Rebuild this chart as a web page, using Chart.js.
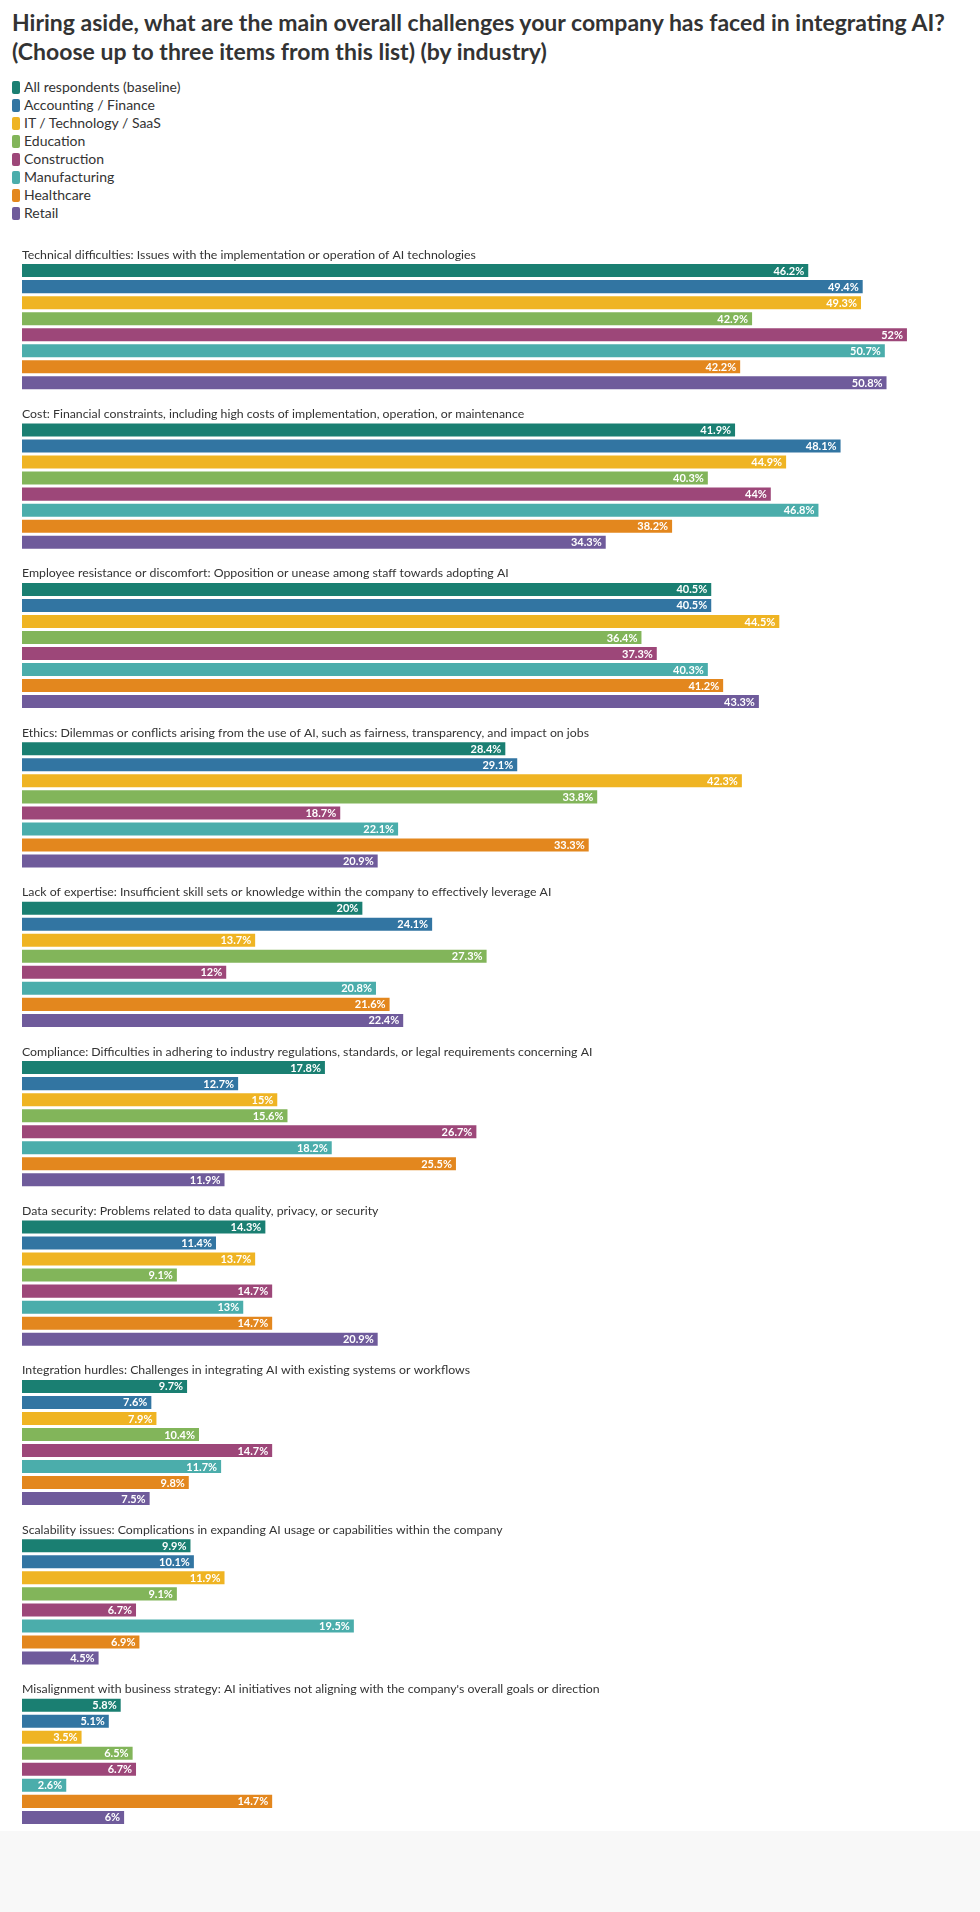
<!DOCTYPE html>
<html>
<head>
<meta charset="utf-8">
<script src="https://cdn.jsdelivr.net/npm/chart.js@4/dist/chart.umd.min.js"></script>
<style>
  html, body { margin: 0; padding: 0; background: #f8f8f8; }
  body { width: 980px; height: 1912px; position: relative; font-family: Lato, "Noto Sans", sans-serif; color: #333; }
  #panel { position: absolute; left: 0; top: 0; width: 980px; height: 1831px; background: #fff; }
  #title { position: absolute; left: 12px; top: 8px; font-size: 23px; font-weight: bold; line-height: 29px; color: #333; }
  #legend { position: absolute; left: 12px; top: 78px; font-size: 14px; line-height: 18px; color: #333; }
  #legend .item { display: flex; align-items: center; height: 18px; }
  #legend .sw { width: 8px; height: 13px; border-radius: 2px; margin-right: 4px; }
  #chartBox { position: absolute; left: 0; top: 239px; width: 980px; height: 1610px; }
</style>
</head>
<body>
<div id="panel"></div>
<div id="title">Hiring aside, what are the main overall challenges your company has faced in integrating AI?<br>(Choose up to three items from this list) (by industry)</div>
<div id="legend"></div>
<div id="chartBox"><canvas id="chart"></canvas></div>
<script>
var categories = [
  "Technical difficulties: Issues with the implementation or operation of AI technologies",
  "Cost: Financial constraints, including high costs of implementation, operation, or maintenance",
  "Employee resistance or discomfort: Opposition or unease among staff towards adopting AI",
  "Ethics: Dilemmas or conflicts arising from the use of AI, such as fairness, transparency, and impact on jobs",
  "Lack of expertise: Insufficient skill sets or knowledge within the company to effectively leverage AI",
  "Compliance: Difficulties in adhering to industry regulations, standards, or legal requirements concerning AI",
  "Data security: Problems related to data quality, privacy, or security",
  "Integration hurdles: Challenges in integrating AI with existing systems or workflows",
  "Scalability issues: Complications in expanding AI usage or capabilities within the company",
  "Misalignment with business strategy: AI initiatives not aligning with the company's overall goals or direction"
];

var seriesNames = ["All respondents (baseline)", "Accounting / Finance", "IT / Technology / SaaS", "Education",
  "Construction", "Manufacturing", "Healthcare", "Retail"];

var allRespondents = [46.2, 41.9, 40.5, 28.4, 20, 17.8, 14.3, 9.7, 9.9, 5.8];
var accounting     = [49.4, 48.1, 40.5, 29.1, 24.1, 12.7, 11.4, 7.6, 10.1, 5.1];
var itTech         = [49.3, 44.9, 44.5, 42.3, 13.7, 15, 13.7, 7.9, 11.9, 3.5];
var education      = [42.9, 40.3, 36.4, 33.8, 27.3, 15.6, 9.1, 10.4, 9.1, 6.5];
var construction   = [52, 44, 37.3, 18.7, 12, 26.7, 14.7, 14.7, 6.7, 6.7];
var manufacturing  = [50.7, 46.8, 40.3, 22.1, 20.8, 18.2, 13, 11.7, 19.5, 2.6];
var healthcare     = [42.2, 38.2, 41.2, 33.3, 21.6, 25.5, 14.7, 9.8, 6.9, 14.7];
var retail         = [50.8, 34.3, 43.3, 20.9, 22.4, 11.9, 20.9, 7.5, 4.5, 6];

var seriesValues = [allRespondents, accounting, itTech, education, construction, manufacturing, healthcare, retail];
var colors = ["#1a7f72", "#3275a2", "#efb423", "#82b55a", "#9d4779", "#4badab", "#e3871e", "#6f5b9b"];

// legend
var legendEl = document.getElementById('legend');
seriesNames.forEach(function (name, i) {
  var item = document.createElement('div');
  item.className = 'item';
  var sw = document.createElement('span');
  sw.className = 'sw';
  sw.style.background = colors[i];
  var txt = document.createElement('span');
  txt.textContent = name;
  item.appendChild(sw);
  item.appendChild(txt);
  legendEl.appendChild(item);
});

var fontFamily = 'Lato, "Noto Sans", sans-serif';
Chart.defaults.font.family = fontFamily;

// value labels at the end of each bar
var barLabels = {
  id: 'barLabels',
  afterDatasetsDraw: function (chart) {
    var ctx = chart.ctx;
    ctx.save();
    ctx.font = 'bold 11px ' + fontFamily;
    ctx.fillStyle = '#fff';
    ctx.textAlign = 'right';
    ctx.textBaseline = 'middle';
    chart.data.datasets.forEach(function (ds, di) {
      var meta = chart.getDatasetMeta(di);
      meta.data.forEach(function (bar, i) {
        ctx.fillText(ds.data[i] + '%', bar.x - 4, bar.y + 0.5);
      });
    });
    ctx.restore();
  }
};

var ctx = document.getElementById('chart');
var myChart = new Chart(ctx, {
  type: 'bar',
  data: {
    labels: categories,
    datasets: seriesValues.map(function (vals, i) {
      return {
        label: seriesNames[i],
        data: vals,
        backgroundColor: colors[i],
        borderWidth: 0,
        categoryPercentage: 0.8045,
        barPercentage: 0.8125
      };
    })
  },
  options: {
    indexAxis: 'y',
    responsive: true,
    maintainAspectRatio: false,
    animation: false,
    layout: { padding: { left: 22, right: 22, top: 8, bottom: 8 } },
    plugins: {
      legend: { display: false },
      tooltip: { enabled: false }
    },
    scales: {
      x: { display: false, min: 0, max: 55 },
      y: {
        grid: { display: false, drawTicks: false },
        border: { display: false },
        ticks: {
          mirror: true,
          padding: 0,
          autoSkip: false,
          labelOffset: -72,
          color: '#333',
          font: { size: 12.3 }
        }
      }
    }
  },
  plugins: [barLabels]
});
</script>
</body>
</html>
